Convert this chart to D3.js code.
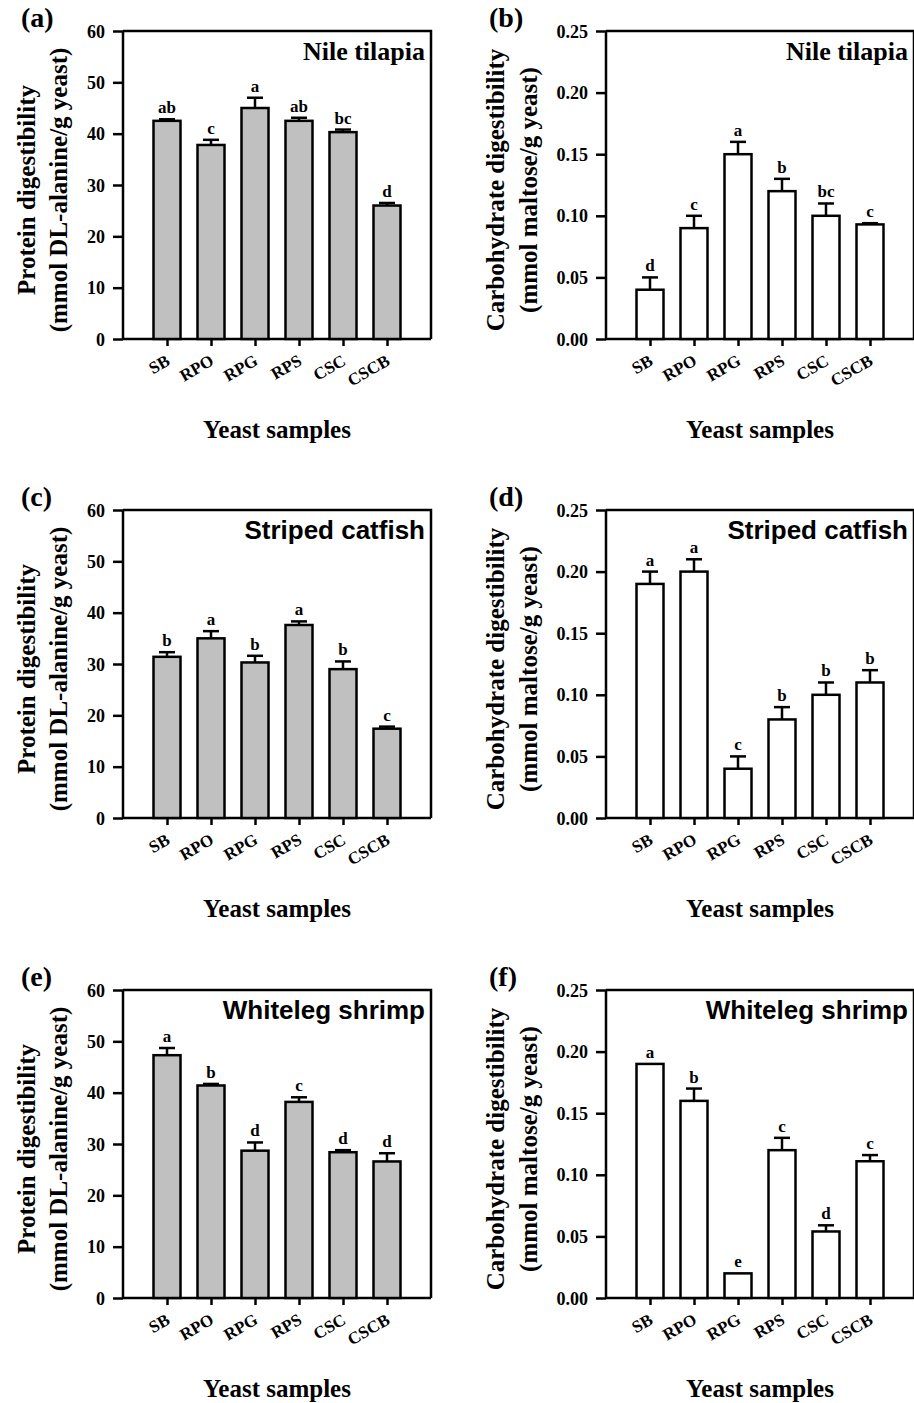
<!DOCTYPE html>
<html lang="en">
<head>
<meta charset="UTF-8">
<script src="https://d3js.org/d3.v7.min.js"></script>
<title>Yeast digestibility</title>
<style>
    body { margin: 0; background: white; }
    svg text { font-family: "Liberation Serif", "Times New Roman", serif; font-weight: bold; fill: black; }
    .sans { font-family: "Liberation Sans", Arial, sans-serif !important; }
</style>
</head>
<body>
<div id="chart"></div>
<script>
    var samples = ["SB", "RPO", "RPG", "RPS", "CSC", "CSCB"];

    // protein digestibility (mmol DL-alanine/g yeast)
    var tilapiaProtein = [42.5, 37.8, 45.0, 42.5, 40.3, 26.0];
    var tilapiaProteinErr = [0.3, 1.0, 2.0, 0.6, 0.5, 0.5];
    var tilapiaProteinSig = ["ab", "c", "a", "ab", "bc", "d"];

    var catfishProtein = [31.4, 35.0, 30.3, 37.6, 29.0, 17.4];
    var catfishProteinErr = [0.9, 1.4, 1.3, 0.7, 1.5, 0.4];
    var catfishProteinSig = ["b", "a", "b", "a", "b", "c"];

    var shrimpProtein = [47.3, 41.4, 28.7, 38.2, 28.4, 26.6];
    var shrimpProteinErr = [1.4, 0.3, 1.6, 0.9, 0.4, 1.6];
    var shrimpProteinSig = ["a", "b", "d", "c", "d", "d"];

    // carbohydrate digestibility (mmol maltose/g yeast)
    var tilapiaCarb = [0.040, 0.090, 0.150, 0.120, 0.100, 0.093];
    var tilapiaCarbErr = [0.010, 0.010, 0.010, 0.010, 0.010, 0.001];
    var tilapiaCarbSig = ["d", "c", "a", "b", "bc", "c"];

    var catfishCarb = [0.190, 0.200, 0.040, 0.080, 0.100, 0.110];
    var catfishCarbErr = [0.010, 0.010, 0.010, 0.010, 0.010, 0.010];
    var catfishCarbSig = ["a", "a", "c", "b", "b", "b"];

    var shrimpCarb = [0.190, 0.160, 0.020, 0.120, 0.054, 0.111];
    var shrimpCarbErr = [0, 0.010, 0, 0.010, 0.005, 0.005];
    var shrimpCarbSig = ["a", "b", "e", "c", "d", "c"];

    var proteinTicks = [0, 10, 20, 30, 40, 50, 60];
    var carbTicks = [0, 0.05, 0.10, 0.15, 0.20, 0.25];

    var canvasWidth = 914, canvasHeight = 1403;
    var plotW = 308, plotH = 308;
    var colX = [123, 606];
    var rowY = [31, 510, 990];

    var svg = d3.select("#chart").append("svg")
        .attr("width", canvasWidth)
        .attr("height", canvasHeight);

    var panels = [
        {tag: "(a)", row: 0, col: 0, title: "Nile tilapia", serifTitle: true, vals: tilapiaProtein, err: tilapiaProteinErr, sig: tilapiaProteinSig, kind: "protein"},
        {tag: "(b)", row: 0, col: 1, title: "Nile tilapia", serifTitle: true, vals: tilapiaCarb, err: tilapiaCarbErr, sig: tilapiaCarbSig, kind: "carb"},
        {tag: "(c)", row: 1, col: 0, title: "Striped catfish", serifTitle: false, vals: catfishProtein, err: catfishProteinErr, sig: catfishProteinSig, kind: "protein"},
        {tag: "(d)", row: 1, col: 1, title: "Striped catfish", serifTitle: false, vals: catfishCarb, err: catfishCarbErr, sig: catfishCarbSig, kind: "carb"},
        {tag: "(e)", row: 2, col: 0, title: "Whiteleg shrimp", serifTitle: false, vals: shrimpProtein, err: shrimpProteinErr, sig: shrimpProteinSig, kind: "protein"},
        {tag: "(f)", row: 2, col: 1, title: "Whiteleg shrimp", serifTitle: false, vals: shrimpCarb, err: shrimpCarbErr, sig: shrimpCarbSig, kind: "carb"}
    ];

    panels.forEach(function(p) {
        var x0 = colX[p.col], y0 = rowY[p.row];
        var g = svg.append("g").attr("transform", "translate(" + x0 + "," + y0 + ")");
        var isProt = p.kind == "protein";

        var xScale = d3.scalePoint().domain(["", ...samples, " "]).range([0, plotW]);
        var yScale = d3.scaleLinear().domain(isProt ? [0, 60] : [0, 0.25]).range([plotH, 0]);
        var barW = 27;

        // frame (top + right)
        g.append("path")
            .attr("d", "M0,0H" + plotW + "V" + plotH)
            .attr("fill", "none").attr("stroke", "black").attr("stroke-width", 2.5);

        // y axis
        var yAxis = g.append("g")
            .call(d3.axisLeft(yScale).tickValues(isProt ? proteinTicks : carbTicks)
                .tickSize(10).tickPadding(8)
                .tickFormat(isProt ? d3.format("d") : d3.format(".2f")));
        yAxis.select(".domain").attr("stroke-width", 2.5).attr("d", "M0,0V" + plotH);
        yAxis.selectAll(".tick line").attr("stroke-width", 2.5);
        yAxis.selectAll(".tick text").style("font-size", "18px").attr("dy", "0.34em");

        // x axis
        var xAxis = g.append("g").attr("transform", "translate(0," + plotH + ")")
            .call(d3.axisBottom(xScale).tickValues(samples).tickSize(7).tickFormat(""));
        xAxis.select(".domain").attr("stroke-width", 2.5).attr("d", "M0,0H" + plotW);
        xAxis.selectAll(".tick line").attr("stroke-width", 2.5);

        g.selectAll(".catlab").data(samples).enter().append("text")
            .attr("class", "catlab")
            .attr("text-anchor", "end")
            .style("font-size", "17px")
            .attr("transform", function(d) {
                return "translate(" + (xScale(d) + 4) + "," + (plotH + 25) + ") rotate(-30)";
            })
            .text(function(d) { return d; });

        // bars
        g.selectAll(".bar").data(samples).enter().append("rect")
            .attr("class", "bar")
            .attr("x", function(d) { return xScale(d) - barW / 2; })
            .attr("width", barW)
            .attr("y", function(d, i) { return yScale(p.vals[i]); })
            .attr("height", function(d, i) { return plotH - yScale(p.vals[i]); })
            .attr("fill", isProt ? "#c0c0c0" : "white")
            .attr("stroke", "black").attr("stroke-width", 2.5);

        // error bars (upper only)
        samples.forEach(function(d, i) {
            if (p.err[i] <= 0) return;
            var cx = xScale(d);
            var top = yScale(p.vals[i] + p.err[i]);
            g.append("line").attr("x1", cx).attr("x2", cx)
                .attr("y1", yScale(p.vals[i])).attr("y2", top)
                .attr("stroke", "black").attr("stroke-width", 2.5);
            g.append("line").attr("x1", cx - 8).attr("x2", cx + 8)
                .attr("y1", top).attr("y2", top)
                .attr("stroke", "black").attr("stroke-width", 2.5);
        });

        // significance letters
        g.selectAll(".sig").data(samples).enter().append("text")
            .attr("class", "sig")
            .attr("text-anchor", "middle")
            .style("font-size", "17px")
            .attr("x", function(d) { return xScale(d); })
            .attr("y", function(d, i) { return yScale(p.vals[i] + p.err[i]) - 6; })
            .text(function(d, i) { return p.sig[i]; });

        // species title
        g.append("text")
            .attr("class", p.serifTitle ? "" : "sans")
            .attr("text-anchor", "end")
            .attr("x", plotW - 6).attr("y", 29)
            .style("font-size", "26px")
            .text(p.title);

        // y label
        var lx = isProt ? [-88, -56] : [-102, -69];
        var ylab = isProt ? ["Protein digestibility", "(mmol DL-alanine/g yeast)"]
            : ["Carbohydrate digestibility", "(mmol maltose/g yeast)"];
        ylab.forEach(function(t, k) {
            g.append("text")
                .attr("text-anchor", "middle")
                .style("font-size", "25px")
                .attr("transform", "translate(" + lx[k] + "," + (plotH / 2 + 5) + ") rotate(-90)")
                .text(t);
        });

        // x label
        g.append("text")
            .attr("text-anchor", "middle")
            .style("font-size", "25px")
            .attr("x", plotW / 2).attr("y", plotH + 99)
            .text("Yeast samples");

        // panel tag
        g.append("text")
            .style("font-size", "28px")
            .attr("x", isProt ? -102 : -117).attr("y", -4)
            .text(p.tag);
    });
</script>
</body>
</html>
